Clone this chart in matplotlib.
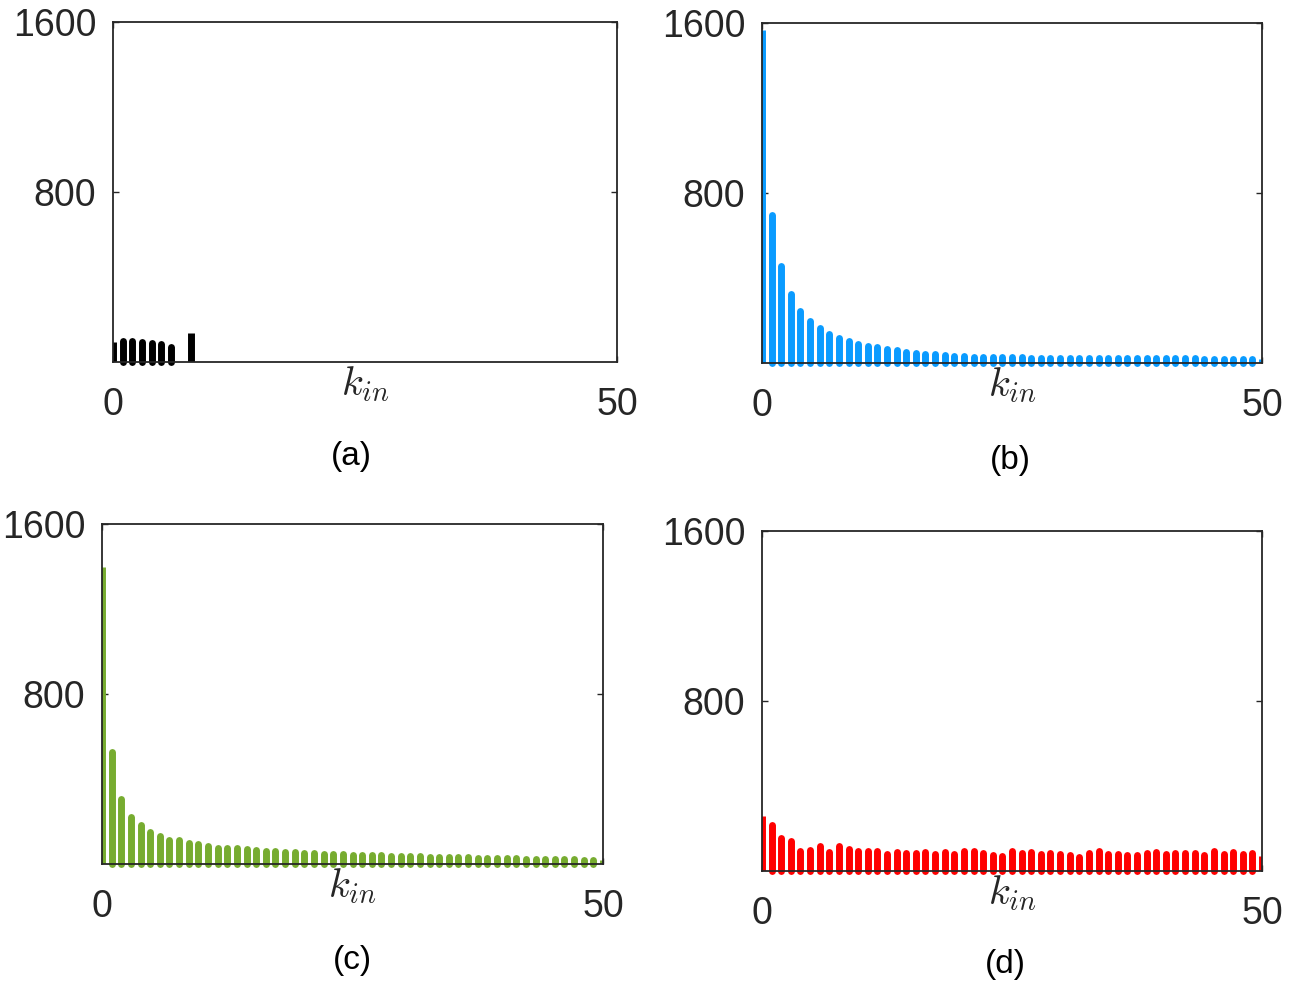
import numpy as np
import matplotlib
matplotlib.use("Agg")
import matplotlib.pyplot as plt

# DATA (counts, one bar per k_in bin)
n_bins = 53
k_max = 50

cnt_a = [91, 97, 97, 94, 89, 81, 69, 0, 135]
cnt_b = [1566, 695, 456, 323, 245, 198, 166, 138, 119, 102, 91, 80, 73, 66,
         59, 53, 48, 44, 40, 37, 34, 32, 30, 29, 28, 27, 26, 26, 25, 25, 25,
         24, 24, 24, 24, 23, 23, 23, 23, 23, 22, 22, 22, 22, 22, 22, 21, 21,
         21, 21, 21, 21, 17]
cnt_c = [1396, 528, 305, 222, 183, 152, 133, 113, 113, 100, 94, 86, 77, 77,
         77, 69, 66, 61, 61, 55, 55, 50, 50, 48, 47, 45, 44, 43, 42, 41, 40,
         38, 37, 36, 35, 34, 33, 32, 31, 30, 29, 28, 27, 26, 25, 24, 24, 23,
         22, 22, 21, 20, 20]
cnt_d = [259, 216, 153, 142, 95, 97, 117, 91, 120, 102, 94, 92, 94, 80, 89,
         83, 83, 88, 80, 88, 80, 94, 92, 83, 73, 69, 94, 83, 91, 78, 83, 78,
         75, 66, 86, 94, 78, 78, 75, 75, 86, 89, 78, 83, 86, 83, 75, 94, 78,
         89, 78, 83, 71]

panels = ["(a)", "(b)", "(c)", "(d)"]
colors = ["black", "#0A9BFF", "#77AC30", "#FF0000"]
y_ticks = [800, 1600]
y_max = 1600

# PLOT
plt.rcParams["font.family"] = ["Liberation Sans", "DejaVu Sans"]
plt.rcParams["mathtext.fontset"] = "cm"

W, H = 1298, 981
fig = plt.figure(figsize=(W / 100, H / 100), dpi=100)

# axes boxes in pixels: left, right, top, bottom
boxes = [(113, 617, 21.7, 361.7), (762, 1262, 23, 363),
         (102, 603, 524, 864), (762, 1262, 531, 871)]
captions = [(351, 457), (1010, 460), (352, 960), (1005, 965)]

bin_pos = np.arange(n_bins) * k_max / (n_bins - 1)
dark = "#262626"

for cnt, col, box, cap, name in zip([cnt_a, cnt_b, cnt_c, cnt_d], colors,
                                    boxes, captions, panels):
    L, R, T, B = box
    ax = fig.add_axes([L / W, 1 - B / H, (R - L) / W, (B - T) / H])
    last = len(cnt) - 1
    for i, v in enumerate(cnt):
        if v == 0:
            continue
        edge = i == 0 or i == last
        ax.plot([bin_pos[i], bin_pos[i]], [0, v], color=col, lw=5.0,
                solid_capstyle="butt" if edge else "round",
                clip_on=edge, zorder=2)
    ax.set_xlim(0, k_max)
    ax.set_ylim(0, y_max)
    ax.set_xticks([0, k_max])
    ax.set_yticks(y_ticks)
    ax.tick_params(direction="in", length=4, width=1, top=True, right=True,
                   labelsize=27, colors=dark)
    ax.tick_params(axis="x", pad=18)
    ax.tick_params(axis="y", pad=12)
    for s in ax.spines.values():
        s.set_color(dark)
        s.set_linewidth(1.3)
    ax.annotate(r"$k_{in}$", xy=(0.5, 0), xycoords="axes fraction",
                xytext=(0, -33 * 0.72), textcoords="offset points",
                ha="center", va="baseline", fontsize=29, color=dark)
    fig.text(cap[0] / W, 1 - cap[1] / H, name, ha="center", va="center",
             fontsize=24, color="black")

fig.savefig("out.png", dpi=100)
